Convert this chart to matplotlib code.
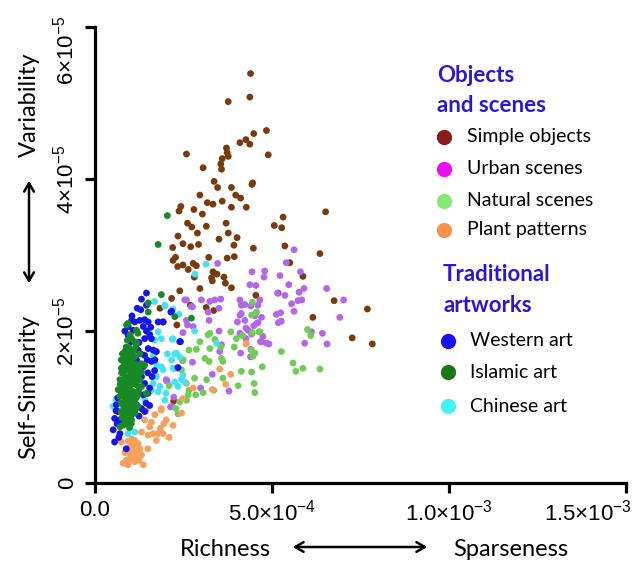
import numpy as np
import matplotlib
matplotlib.use('Agg')
import matplotlib.pyplot as plt
from matplotlib.transforms import ScaledTranslation

plt.rcParams['font.family'] = ['Liberation Sans', 'DejaVu Sans']
plt.rcParams['mathtext.fontset'] = 'custom'
plt.rcParams['mathtext.rm'] = 'Liberation Sans'
plt.rcParams['mathtext.it'] = 'Liberation Sans'

# units: x in 1e-4, y in 1e-5
XU = 1e-4
YU = 1e-5

simple_objects = [
    (4.40, 5.39), (4.38, 5.08), (3.77, 5.02), (4.85, 4.64), (4.49, 4.60), (4.27, 4.52), (4.10, 4.48),
    (4.38, 4.46), (3.72, 4.41), (3.74, 4.35), (3.77, 4.30), (4.90, 4.32), (2.59, 4.33), (3.60, 4.27),
    (3.56, 4.20), (3.06, 4.15), (3.58, 4.13), (3.37, 3.97), (3.47, 3.89), (3.86, 3.89), (4.46, 3.95),
    (4.44, 3.93), (2.97, 3.79), (3.98, 3.79), (4.12, 3.75), (3.18, 3.69), (3.34, 3.67), (3.60, 3.71),
    (2.43, 3.64), (2.38, 3.58), (2.80, 3.60), (3.86, 3.63), (4.28, 3.63), (3.04, 3.54), (5.32, 3.50),
    (5.07, 3.39), (5.28, 3.36), (2.62, 3.42), (2.74, 3.37), (3.15, 3.38), (3.71, 3.42), (2.90, 3.29),
    (3.77, 3.29), (4.02, 3.23), (2.35, 3.25), (3.51, 3.21), (3.93, 3.13), (2.49, 3.15), (2.71, 3.11),
    (2.93, 3.14), (2.20, 3.10), (4.48, 3.09), (5.37, 3.12), (3.22, 2.97), (3.74, 2.96), (3.94, 2.98),
    (2.21, 2.93), (2.28, 2.97), (2.49, 2.87), (2.64, 2.81), (2.34, 2.85), (2.78, 2.89), (2.87, 2.86),
    (2.81, 2.71), (3.34, 2.78), (3.45, 2.75), (3.30, 2.70), (3.32, 2.66), (3.65, 2.71), (3.69, 2.63),
    (3.86, 2.57), (2.97, 2.56), (2.40, 2.53), (2.17, 2.43), (6.52, 3.57), (6.36, 3.02), (5.51, 2.90),
    (5.88, 2.72), (4.55, 2.47), (5.18, 2.50), (6.76, 2.40), (7.70, 2.29), (6.16, 2.18), (7.27, 1.91),
    (7.84, 1.83), (2.70, 2.34), (3.15, 2.31), (3.36, 2.27), (2.32, 2.08), (2.23, 1.08), (1.84, 2.30),
]

urban_scenes = [
    (3.47, 2.89), (4.44, 2.78), (4.80, 2.79), (4.78, 2.71), (5.23, 2.73), (5.41, 2.90), (4.38, 2.61),
    (4.55, 2.60), (5.16, 2.50), (5.37, 2.47), (5.63, 3.07), (5.81, 2.78), (5.48, 2.61), (5.91, 2.56),
    (5.77, 2.51), (6.55, 2.56), (7.03, 2.41), (5.74, 2.40), (5.85, 2.41), (5.56, 2.36), (5.63, 2.26),
    (5.13, 2.22), (5.25, 2.24), (5.18, 2.11), (5.27, 2.13), (6.92, 2.18), (6.12, 1.99), (6.43, 1.97),
    (6.56, 1.83), (5.93, 1.84), (4.10, 2.41), (4.24, 2.35), (4.41, 2.33), (4.61, 2.34), (4.14, 2.23),
    (4.24, 2.14), (4.52, 2.20), (4.71, 2.18), (4.27, 2.04), (4.49, 2.07), (4.61, 2.11), (4.75, 1.93),
    (4.68, 1.86), (4.92, 1.83), (4.43, 1.96), (4.12, 1.71), (4.40, 1.66), (2.59, 2.41), (3.01, 2.41),
    (3.25, 2.39), (3.39, 2.41), (3.56, 2.42), (3.51, 2.30), (3.20, 2.25), (3.23, 2.14), (2.76, 2.32),
    (2.62, 2.08), (2.78, 2.06), (2.49, 1.98), (3.51, 2.00), (3.58, 1.82), (3.53, 1.73), (4.03, 2.12),
    (4.10, 1.97), (4.27, 1.90), (2.48, 1.61), (3.32, 1.43), (2.76, 1.59), (2.04, 1.34), (2.23, 1.13),
    (2.14, 1.00), (3.79, 1.21), (2.35, 1.51), (2.99, 1.25), (2.54, 2.41), (2.73, 2.32), (2.59, 2.14),
    (2.26, 1.51), (2.02, 1.36), (2.17, 1.01), (4.14, 2.34), (4.66, 2.41), (4.33, 2.01), (4.57, 2.10),
    (4.71, 1.86), (4.85, 1.84), (4.41, 1.76), (4.10, 2.21),
]

natural_scenes = [
    (4.45, 2.38), (4.55, 2.24), (4.17, 1.94), (4.45, 1.98), (4.64, 1.99), (4.52, 1.71), (4.47, 1.67),
    (4.43, 1.75), (5.27, 1.73), (6.01, 2.02), (6.10, 1.94), (5.60, 1.58), (5.68, 1.47), (5.88, 1.51),
    (6.36, 1.50), (4.73, 1.53), (4.43, 1.46), (4.14, 1.47), (2.97, 1.86), (3.20, 1.95), (3.25, 1.97),
    (3.39, 1.89), (3.25, 1.77), (3.56, 1.79), (2.66, 1.75), (2.87, 1.76), (3.11, 1.64), (3.58, 1.64),
    (3.62, 1.60), (3.84, 1.99), (3.94, 1.79), (4.00, 1.90), (2.82, 1.38), (3.16, 1.36), (3.62, 1.38),
    (4.05, 1.28), (3.36, 1.22), (3.06, 1.19), (2.66, 1.22), (2.85, 1.16), (2.59, 1.09), (2.35, 0.91),
    (2.29, 0.98), (2.10, 1.28), (3.23, 1.60), (4.50, 1.31), (4.52, 1.19), (2.50, 1.62), (2.45, 1.49),
    (2.64, 1.16), (2.40, 1.07), (4.43, 2.21), (4.66, 1.99), (4.57, 2.25),
]

plant_patterns = [
    (4.27, 1.83), (3.53, 1.50), (3.84, 1.43), (3.70, 1.30), (3.32, 1.23), (2.78, 1.25), (2.49, 1.11),
    (4.28, 1.84), (2.59, 1.31), (1.88, 0.98), (1.95, 0.78), (2.21, 0.76), (1.41, 0.83), (1.55, 0.74),
    (1.88, 0.96), (2.02, 0.83), (1.65, 0.65), (1.79, 0.65), (1.51, 0.63), (1.32, 0.67), (1.13, 0.56),
    (0.99, 0.47), (1.18, 0.43), (1.32, 0.37), (1.04, 0.37), (0.89, 0.30), (1.13, 0.28), (0.80, 0.26),
    (0.94, 0.24), (1.37, 0.24), (0.75, 0.54), (1.22, 0.52), (1.08, 0.50), (1.18, 0.35), (0.99, 0.39),
    (1.27, 0.45), (1.93, 0.65), (1.74, 0.56), (2.45, 0.92), (1.04, 0.30), (1.00, 0.33), (1.10, 0.40),
    (0.85, 0.40), (1.15, 0.48), (0.95, 0.55), (1.25, 0.30), (1.05, 0.58), (1.60, 0.80), (1.70, 0.90),
    (1.45, 0.95), (1.85, 0.72), (2.10, 0.60), (1.50, 0.45),
]

chinese_art = [
    (3.14, 2.88), (2.83, 2.75), (1.98, 2.34), (2.21, 2.29), (2.38, 2.22), (2.82, 2.00), (2.19, 1.89),
    (3.44, 1.84), (2.31, 1.71), (2.40, 1.66), (2.21, 1.51), (2.26, 1.33), (2.45, 1.36), (2.01, 1.18),
    (1.93, 1.49), (2.49, 1.42), (1.69, 2.39), (1.98, 2.33), (1.55, 1.97), (1.79, 1.99), (1.69, 1.88),
    (1.88, 1.90), (1.65, 1.68), (1.88, 1.53), (1.74, 1.40), (1.65, 1.31), (1.84, 1.27), (1.60, 1.22),
    (1.79, 1.20), (1.98, 1.09), (1.41, 1.09), (0.52, 1.01), (0.94, 0.65), (1.13, 0.67), (2.21, 1.90),
    (2.26, 1.70), (2.17, 1.62), (2.35, 1.27), (2.54, 1.33), (0.60, 1.10), (0.70, 0.80), (1.00, 0.72),
    (1.75, 1.55), (2.05, 1.70),
]

western_art = [
    (1.46, 2.50), (1.32, 2.42), (1.46, 2.34), (1.13, 2.12), (1.27, 2.14), (1.41, 2.15), (1.51, 2.12),
    (1.79, 2.12), (1.93, 2.12), (0.94, 2.06), (1.08, 2.01), (1.37, 2.06), (1.46, 2.00), (0.94, 1.95),
    (1.02, 1.86), (1.41, 1.90), (1.60, 1.90), (1.51, 1.77), (1.65, 1.75), (1.41, 1.68), (1.74, 1.73),
    (1.22, 1.75), (1.18, 1.62), (1.60, 1.60), (1.69, 1.48), (1.37, 1.53), (1.32, 1.40), (1.41, 1.31),
    (1.37, 1.16), (1.18, 1.03), (1.32, 0.98), (0.61, 1.03), (0.66, 0.94), (0.56, 0.85), (0.71, 0.83),
    (0.52, 0.70), (0.56, 0.54), (0.71, 0.65), (1.13, 0.96), (0.89, 0.45), (2.40, 1.86), (2.15, 2.25),
    (1.02, 0.89), (1.41, 0.94), (2.17, 2.26), (1.93, 2.12), (2.42, 1.86), (2.35, 1.52), (1.25, 1.85),
    (1.50, 1.45), (1.55, 1.25), (1.45, 1.05), (0.75, 1.20), (0.65, 1.12), (1.05, 2.20), (1.20, 2.30),
    (1.55, 1.95), (0.85, 2.00), (1.30, 1.70), (1.48, 1.62), (1.04, 2.14), (0.94, 2.06), (1.30, 2.28),
    (1.58, 2.05), (1.70, 1.62), (1.62, 1.40), (1.50, 1.18), (1.55, 1.02), (0.60, 0.95), (0.63, 0.78),
    (0.68, 0.60), (1.25, 0.88),
]

islamic_art = [
    (1.51, 2.37), (1.51, 2.25), (0.94, 2.10), (1.22, 1.97), (1.18, 1.84), (0.75, 1.62), (0.85, 1.73),
    (0.94, 1.66), (1.08, 1.68), (1.27, 1.70), (1.32, 1.57), (0.94, 1.53), (0.80, 1.44), (1.04, 1.42),
    (1.18, 1.49), (0.85, 1.36), (0.75, 1.27), (0.99, 1.27), (1.18, 1.29), (1.32, 1.27), (0.89, 1.18),
    (0.71, 1.14), (1.04, 1.12), (1.22, 1.16), (0.80, 1.05), (0.94, 1.01), (1.13, 1.07), (0.75, 0.94),
    (0.89, 0.87), (0.85, 0.78), (1.04, 0.83), (0.71, 0.74), (1.41, 1.55), (1.46, 1.18), (0.75, 1.51),
    (0.99, 1.40), (0.89, 1.49), (1.08, 1.36), (0.80, 1.23), (1.08, 1.20), (0.94, 0.94), (1.13, 0.92),
    (0.71, 1.36), (1.22, 1.40), (0.99, 1.60), (0.89, 1.79), (1.04, 1.90), (1.18, 2.01), (0.85, 1.09),
    (1.04, 1.05), (0.94, 1.31), (1.22, 1.01), (0.66, 1.23), (1.13, 1.57), (1.32, 1.46), (0.90, 1.50),
    (1.00, 1.55), (1.10, 1.45), (0.95, 1.25), (1.05, 1.30), (0.85, 1.15), (1.00, 1.10), (1.10, 1.20),
    (0.90, 0.95), (1.00, 0.90), (0.95, 1.70), (1.05, 1.65), (0.85, 1.60), (1.15, 1.55), (1.20, 1.35),
    (0.80, 1.35), (0.92, 1.40), (1.02, 1.00), (0.88, 0.85), (1.10, 1.75), (2.05, 3.52), (1.79, 3.14),
    (1.88, 2.48), (2.26, 2.19), (2.73, 2.17), (0.78, 1.70), (0.82, 1.55), (0.88, 1.65), (0.97, 1.78),
    (1.02, 1.72), (1.12, 1.66), (1.16, 1.80), (0.76, 1.45), (0.84, 1.48), (0.93, 1.58), (1.07, 1.52),
    (1.16, 1.44), (1.25, 1.52), (0.72, 1.30), (0.79, 1.18), (0.86, 1.28), (0.97, 1.35), (1.03, 1.45),
    (1.13, 1.33), (1.27, 1.36), (0.74, 1.05), (0.82, 1.00), (0.91, 1.13), (0.98, 1.20), (1.06, 1.15),
    (1.17, 1.12), (1.24, 1.22), (0.77, 0.86), (0.83, 0.93), (0.94, 1.05), (1.08, 0.97), (1.15, 0.98),
    (0.80, 0.76), (0.92, 0.80), (0.98, 0.73), (1.03, 0.78), (0.90, 2.08), (1.13, 1.86), (1.00, 1.95),
    (0.92, 1.88),
]

# (name, points, dot colour, legend colour)
obj_groups = [
    ('Simple objects', simple_objects, '#7a3b0c', '#8b1a1a'),
    ('Urban scenes', urban_scenes, '#b466ea', '#f00cf0'),
    ('Natural scenes', natural_scenes, '#6fcd55', '#84e874'),
    ('Plant patterns', plant_patterns, '#f5a05c', '#f7924a'),
]
art_groups = [
    ('Western art', western_art, '#1616e4', '#1a10ee'),
    ('Islamic art', islamic_art, '#178a25', '#187818'),
    ('Chinese art', chinese_art, '#46e2f2', '#44f2f4'),
]
draw_order = [obj_groups[0], obj_groups[1], obj_groups[2], obj_groups[3],
              art_groups[2], art_groups[0], art_groups[1]]

fig = plt.figure(figsize=(6.36, 5.62), dpi=100)
ax = fig.add_axes([0.149, 0.1406, 0.835, 0.811])

for name, pts, col, lcol in draw_order:
    p = np.array(pts)
    ax.scatter(p[:, 0] * XU, p[:, 1] * YU, s=24, color=col, edgecolors='none', zorder=3)

ax.set_xlim(0, 1.5e-3)
ax.set_ylim(0, 6e-5)
for s in ['top', 'right']:
    ax.spines[s].set_visible(False)
for s in ['left', 'bottom']:
    ax.spines[s].set_linewidth(2.3)

xt = [0, 5e-4, 1e-3, 1.5e-3]
xl = ['0.0', r'$\mathregular{5.0{\times}10^{-4}}$', r'$\mathregular{1.0{\times}10^{-3}}$',
      r'$\mathregular{1.5{\times}10^{-3}}$']
yt = [0, 2e-5, 4e-5, 6e-5]
yl = ['0', r'$\mathregular{2{\times}10^{-5}}$', r'$\mathregular{4{\times}10^{-5}}$',
      r'$\mathregular{6{\times}10^{-5}}$']
ax.set_xticks(xt, labels=xl)
ax.set_yticks(yt, labels=yl)
ax.tick_params(axis='both', width=2.3, length=7, labelsize=16, color='black')
ax.tick_params(axis='x', pad=5)
ax.tick_params(axis='y', pad=5)
for lab in ax.get_yticklabels():
    lab.set_rotation(90)
    lab.set_rotation_mode('default')
    lab.set_va('center')
    lab.set_ha('right')

# nudge the end labels inward like the original
lab = ax.get_yticklabels()[-1]
lab.set_transform(lab.get_transform() + ScaledTranslation(0, -0.23, fig.dpi_scale_trans))
lab = ax.get_xticklabels()[-1]
lab.set_transform(lab.get_transform() + ScaledTranslation(-0.38, 0, fig.dpi_scale_trans))

# axis labels with arrows
lf = ['Lato', 'DejaVu Sans']
fig.text(225 / 636, 1 - 550 / 562, 'Richness', fontsize=17, family=lf, ha='center', va='center')
fig.text(511 / 636, 1 - 550 / 562, 'Sparseness', fontsize=17, family=lf, ha='center', va='center')
fig.add_artist(matplotlib.patches.FancyArrowPatch(
    (290 / 636, 1 - 547 / 562), (430 / 636, 1 - 547 / 562), transform=fig.transFigure,
    arrowstyle='<->,head_length=6,head_width=3.5', lw=1.8, color='black'))
fig.text(29 / 636, 1 - 105 / 562, 'Variability', fontsize=17, family=lf, rotation=90, ha='center', va='center')
fig.text(29 / 636, 1 - 387 / 562, 'Self-Similarity', fontsize=17, family=lf, rotation=90, ha='center', va='center')
fig.add_artist(matplotlib.patches.FancyArrowPatch(
    (29 / 636, 1 - 286 / 562), (29 / 636, 1 - 178 / 562), transform=fig.transFigure,
    arrowstyle='<->,head_length=6,head_width=3.5', lw=1.8, color='black'))

# legend drawn by hand (two headed groups)
hcol = '#2a16d8'
fig.text(437 / 636, 1 - 75 / 562, 'Objects', fontsize=16, fontweight='bold', family=lf, color=hcol, va='center')
fig.text(437 / 636, 1 - 105 / 562, 'and scenes', fontsize=16, fontweight='bold', family=lf, color=hcol, va='center')
obj_y = [137, 169, 201, 230]
for (name, pts, col, lcol), yy in zip(obj_groups, obj_y):
    fig.add_artist(matplotlib.lines.Line2D([444 / 636], [1 - yy / 562], marker='o', markersize=11,
                                           color=lcol, markeredgewidth=0, transform=fig.transFigure))
    fig.text(467 / 636, 1 - yy / 562, name, fontsize=14, family=lf, va='center')
fig.text(443 / 636, 1 - 275 / 562, 'Traditional', fontsize=16, fontweight='bold', family=lf, color=hcol, va='center')
fig.text(443 / 636, 1 - 305 / 562, 'artworks', fontsize=16, fontweight='bold', family=lf, color=hcol, va='center')
art_y = [341, 372, 406]
for (name, pts, col, lcol), yy in zip(art_groups, art_y):
    fig.add_artist(matplotlib.lines.Line2D([448 / 636], [1 - yy / 562], marker='o', markersize=11,
                                           color=lcol, markeredgewidth=0, transform=fig.transFigure))
    fig.text(470 / 636, 1 - yy / 562, name, fontsize=14, family=lf, va='center')

fig.savefig('out.png', dpi=100)
